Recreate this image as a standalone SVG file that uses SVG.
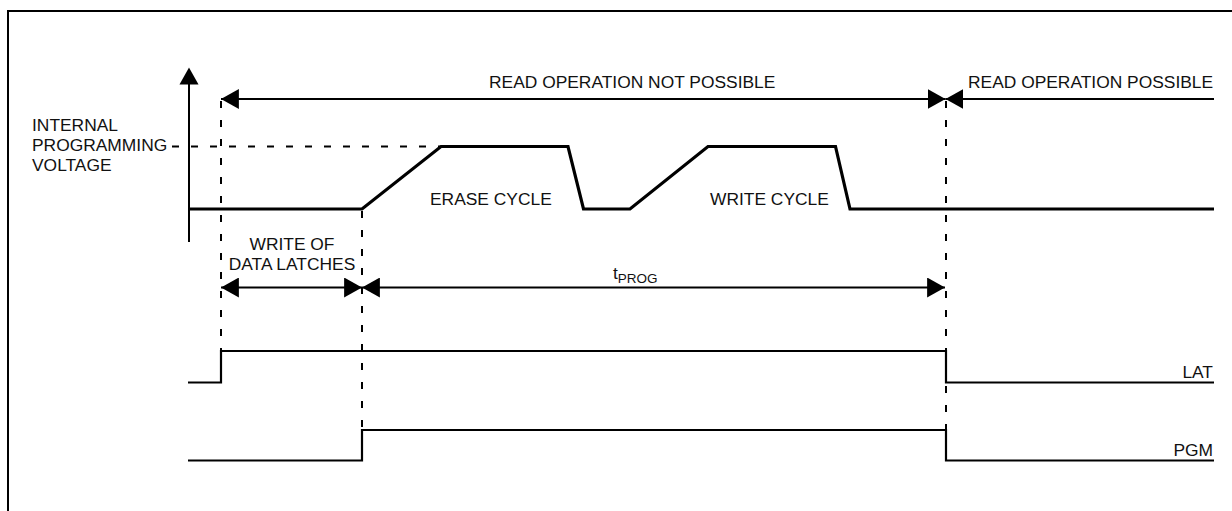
<svg xmlns="http://www.w3.org/2000/svg" width="1232" height="511" viewBox="0 0 1232 511">
<style>
text{font-family:"Liberation Sans",Arial,sans-serif;font-size:17.4px;fill:#111}
.sub{font-size:13.5px}
.thick{fill:none;stroke:#000;stroke-width:3.2;stroke-linejoin:miter}
.sig{fill:none;stroke:#000;stroke-width:2.2}
.line{fill:none;stroke:#000;stroke-width:2}
.dash{fill:none;stroke:#000;stroke-width:2;stroke-dasharray:7 12}
</style>
<defs>
<marker id="ah" markerUnits="userSpaceOnUse" markerWidth="18" markerHeight="20" viewBox="0 0 17 19" refX="17" refY="9.5" orient="auto-start-reverse">
<path d="M0,0 L17,9.5 L0,19 Z" fill="#000"/>
</marker>
</defs>
<rect width="1232" height="511" fill="#fff"/>
<g id="frame"><path d="M8,511 V11 H1232" class="line"/></g>

<g id="axis">
<line x1="189" y1="82" x2="189" y2="242" class="line"/>
<path d="M189,67.5 L198.5,84.5 L179.5,84.5 Z" fill="#000"/>
</g>

<g id="voltage-label">
<text x="32" y="131">INTERNAL</text>
<text x="32" y="151">PROGRAMMING</text>
<text x="32" y="171">VOLTAGE</text>
</g>

<g id="voltage-waveform">
<path class="thick" d="M188,209 H362 L441,146.5 H568 L583.5,209 H630 L708,146.5 H835.5 L850,209 H1214"/>
<text x="430" y="205">ERASE CYCLE</text>
<text x="710" y="205">WRITE CYCLE</text>
</g>

<g id="lat-signal">
<path class="sig" d="M188,382.5 H221 V351 H946 V382.5 H1214"/>
<text x="1213" y="378" text-anchor="end">LAT</text>
</g>

<g id="pgm-signal">
<path class="sig" d="M188,460.5 H362 V430 H946 V460.5 H1214"/>
<text x="1213" y="456" text-anchor="end">PGM</text>
</g>

<g id="connectors">
<line class="dash" x1="172" y1="146.5" x2="440" y2="146.5"/>
<line class="dash" x1="221" y1="101" x2="221" y2="351"/>
<line class="dash" x1="362" y1="211" x2="362" y2="430"/>
<line class="dash" x1="946" y1="101" x2="946" y2="430"/>
<line class="line" x1="221" y1="99" x2="945.5" y2="99" marker-start="url(#ah)" marker-end="url(#ah)"/>
<line class="line" x1="945.5" y1="99" x2="1214" y2="99" marker-start="url(#ah)"/>
<line class="line" x1="221" y1="287.5" x2="362" y2="287.5" marker-start="url(#ah)" marker-end="url(#ah)"/>
<line class="line" x1="362" y1="287.5" x2="945" y2="287.5" marker-start="url(#ah)" marker-end="url(#ah)"/>
</g>

<g id="labels">
<text x="489" y="88">READ OPERATION NOT POSSIBLE</text>
<text x="968" y="88">READ OPERATION POSSIBLE</text>
<text x="292" y="250" text-anchor="middle">WRITE OF</text>
<text x="292" y="270" text-anchor="middle">DATA LATCHES</text>
<text x="613" y="279">t<tspan class="sub" dy="4">PROG</tspan></text>
</g>
</svg>
